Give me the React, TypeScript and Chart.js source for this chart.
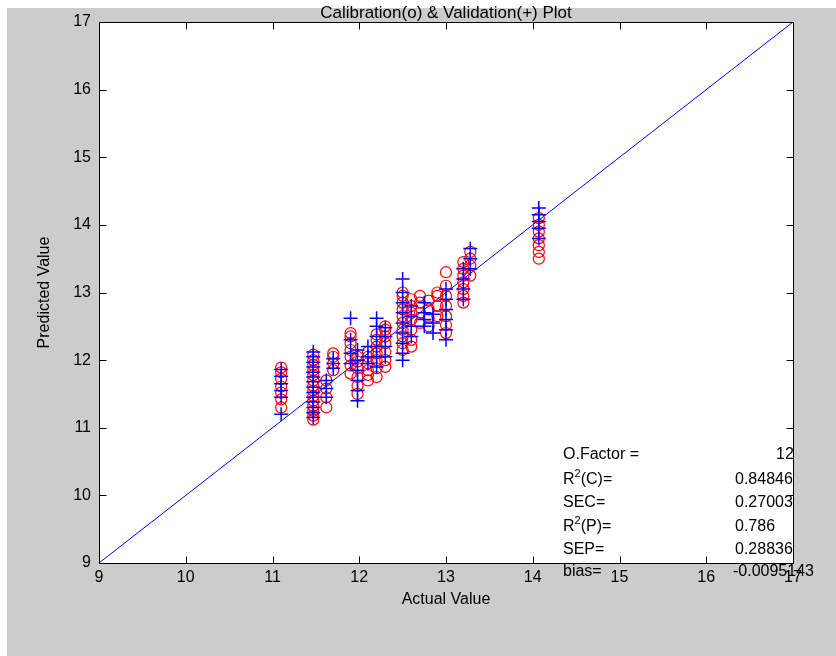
import React, { useEffect, useRef } from "react";
import { Chart, registerables } from "chart.js";

Chart.register(...registerables);

// ---- data ----
const xTicks = [9, 10, 11, 12, 13, 14, 15, 16, 17];
const yTicks = [9, 10, 11, 12, 13, 14, 15, 16, 17];
const diagonal = [9, 17];

const calActual = [11.1, 11.47, 11.62, 11.7, 11.9, 11.98, 12.1, 12.2, 12.3, 12.5, 12.6, 12.7, 12.8, 12.9, 13.0, 13.2, 13.28, 14.07];
const calPredicted = [
  [11.3, 11.42, 11.52, 11.61, 11.72, 11.82, 11.89],
  [11.12, 11.18, 11.25, 11.32, 11.4, 11.47, 11.55, 11.62, 11.7, 11.78, 11.85, 11.93, 12.0, 12.08],
  [11.3, 11.45, 11.58, 11.7],
  [11.85, 11.95, 12.05, 12.1],
  [11.8, 11.92, 12.05, 12.15, 12.25, 12.35, 12.4],
  [11.5, 11.62, 11.75, 11.88, 11.98, 12.05],
  [11.7, 11.78, 11.85, 11.95, 12.05, 12.12],
  [11.75, 11.88, 12.0, 12.1, 12.2, 12.3, 12.38],
  [11.9, 12.0, 12.12, 12.25, 12.35, 12.45, 12.5],
  [12.15, 12.25, 12.35, 12.45, 12.55, 12.65, 12.75, 12.85, 12.95, 13.0],
  [12.2, 12.3, 12.45, 12.6, 12.7, 12.8, 12.9],
  [12.55, 12.7, 12.85, 12.95],
  [12.5, 12.62, 12.75, 12.88],
  [12.65, 12.8, 12.95, 13.0],
  [12.4, 12.52, 12.65, 12.8, 12.95, 13.1, 13.3],
  [12.85, 12.95, 13.05, 13.15, 13.25, 13.35, 13.45],
  [13.25, 13.4, 13.5, 13.6],
  [13.5, 13.6, 13.7, 13.8, 13.9, 14.0, 14.1],
];

const valActual = [11.1, 11.47, 11.62, 11.7, 11.9, 11.98, 12.1, 12.2, 12.3, 12.5, 12.6, 12.75, 12.85, 13.0, 13.2, 13.28, 14.07];
const valPredicted = [
  [11.2, 11.45, 11.55, 11.65, 11.76, 11.86],
  [11.15, 11.22, 11.3, 11.38, 11.45, 11.52, 11.6, 11.68, 11.75, 11.82, 11.9, 11.97, 12.05, 12.12],
  [11.45, 11.58, 11.7],
  [11.88, 11.95, 12.02],
  [11.95, 12.1, 12.3, 12.62],
  [11.4, 11.55, 11.7, 11.85, 12.0, 12.15],
  [11.95, 12.05, 12.2],
  [11.9, 12.05, 12.2, 12.35, 12.5, 12.62],
  [12.05, 12.2, 12.35, 12.48],
  [12.0, 12.1, 12.25, 12.4, 12.55, 12.7, 12.85, 13.0, 13.2],
  [12.35, 12.5, 12.65, 12.8],
  [12.5, 12.6, 12.7, 12.85],
  [12.4, 12.55, 12.68],
  [12.3, 12.45, 12.6, 12.75, 12.9, 13.05],
  [12.9, 13.05, 13.2, 13.35],
  [13.35, 13.5, 13.65],
  [13.8, 13.95, 14.05, 14.15, 14.25],
];

const titleText = "Calibration(o) & Validation(+) Plot";
const xLabel = "Actual Value";
const yLabel = "Predicted Value";
const statLabels = ["O.Factor =", "R|2|(C)=", "SEC=", "R|2|(P)=", "SEP=", "bias="];
const statValues = ["12", "0.84846", "0.27003", "0.786", "0.28836", "-0.0095143"];

// ---- layout constants ----
const W = 836;
const H = 656;
const FONT = '"Liberation Sans", Arial, sans-serif';

function toPoints(actual: number[], pred: number[][]) {
  const pts: { x: number; y: number }[] = [];
  actual.forEach((a, i) => pred[i].forEach((p) => pts.push({ x: a, y: p })));
  return pts;
}

const matlabPlugin = {
  id: "matlabStyle",
  beforeDraw(chart: any) {
    const ctx = chart.ctx;
    const a = chart.chartArea;
    ctx.save();
    ctx.fillStyle = "#ffffff";
    ctx.fillRect(0, 0, W, H);
    ctx.fillStyle = "#cccccc";
    ctx.fillRect(7, 8, W - 7, H - 8);
    ctx.fillStyle = "#ffffff";
    ctx.fillRect(a.left, a.top, a.right - a.left, a.bottom - a.top);
    ctx.restore();
  },
  afterDraw(chart: any) {
    const ctx = chart.ctx;
    const a = chart.chartArea;
    const xs = chart.scales.x;
    const ys = chart.scales.y;
    ctx.save();
    ctx.fillStyle = "#000";
    // title
    ctx.font = `17px ${FONT}`;
    ctx.textAlign = "center";
    ctx.textBaseline = "middle";
    ctx.fillText(titleText, (a.left + a.right) / 2, 13);
    // x label
    ctx.font = `16px ${FONT}`;
    ctx.fillText(xLabel, (a.left + a.right) / 2, 600);
    // y label
    ctx.save();
    ctx.translate(45, (a.top + a.bottom) / 2);
    ctx.rotate(-Math.PI / 2);
    ctx.fillText(yLabel, 0, 0);
    ctx.restore();

    // stats text
    ctx.textAlign = "left";
    ctx.textBaseline = "middle";
    const rowY = [455, 480, 503, 527, 550, 572];
    statLabels.forEach((lab, i) => {
      let x = 563;
      const parts = lab.split("|");
      if (parts.length === 3) {
        ctx.font = `16px ${FONT}`;
        ctx.fillText(parts[0], x, rowY[i]);
        x += ctx.measureText(parts[0]).width;
        ctx.font = `11px ${FONT}`;
        ctx.fillText(parts[1], x, rowY[i] - 6);
        x += ctx.measureText(parts[1]).width;
        ctx.font = `16px ${FONT}`;
        ctx.fillText(parts[2], x, rowY[i]);
      } else {
        ctx.font = `16px ${FONT}`;
        ctx.fillText(lab, x, rowY[i]);
      }
    });
    ctx.font = `16px ${FONT}`;
    statValues.forEach((v, i) => {
      const x = i === 0 ? 776 : i === 5 ? 733 : 735;
      ctx.fillText(v, x, rowY[i]);
    });

    // axes box and inward ticks
    ctx.strokeStyle = "#000";
    ctx.lineWidth = 1;
    const L = Math.round(a.left) + 0.5;
    const R = Math.round(a.right) + 0.5;
    const T = Math.round(a.top) + 0.5;
    const B = Math.round(a.bottom) + 0.5;
    ctx.beginPath();
    ctx.rect(L, T, R - L, B - T);
    const tl = 7;
    xTicks.forEach((t) => {
      const px = Math.round(xs.getPixelForValue(t)) + 0.5;
      ctx.moveTo(px, B);
      ctx.lineTo(px, B - tl);
      ctx.moveTo(px, T);
      ctx.lineTo(px, T + tl);
    });
    yTicks.forEach((t) => {
      const py = Math.round(ys.getPixelForValue(t)) + 0.5;
      ctx.moveTo(L, py);
      ctx.lineTo(L + tl, py);
      ctx.moveTo(R, py);
      ctx.lineTo(R - tl, py);
    });
    ctx.stroke();
    ctx.restore();
  },
};

export default function App() {
  const ref = useRef<HTMLCanvasElement>(null);
  useEffect(() => {
    if (!ref.current) return;
    const chart = new Chart(ref.current, {
      type: "scatter",
      data: {
        datasets: [
          {
            label: "Validation",
            data: toPoints(valActual, valPredicted),
            pointStyle: "cross",
            pointRadius: 7,
            borderColor: "#0000ff",
            backgroundColor: "#0000ff",
            borderWidth: 1.5,
            showLine: false,
          },
          {
            label: "Calibration",
            data: toPoints(calActual, calPredicted),
            pointStyle: "circle",
            pointRadius: 5.5,
            borderColor: "#ff0000",
            backgroundColor: "rgba(0,0,0,0)",
            borderWidth: 1.2,
            showLine: false,
          },
          {
            label: "Diagonal",
            data: diagonal.map((v) => ({ x: v, y: v })),
            showLine: true,
            pointRadius: 0,
            borderColor: "#0000ff",
            borderWidth: 1,
          },
        ],
      },
      options: {
        animation: false,
        responsive: false,
        devicePixelRatio: 1,
        events: [],
        layout: { padding: { left: 0, top: 22, right: 43, bottom: 0 } },
        plugins: {
          legend: { display: false },
          title: { display: false },
          tooltip: { enabled: false },
        },
        scales: {
          x: {
            type: "linear",
            min: 9,
            max: 17,
            afterFit: (s: any) => {
              s.height = 93;
            },
            afterBuildTicks: (s: any) => {
              s.ticks = xTicks.map((v) => ({ value: v }));
            },
            ticks: {
              color: "#000",
              font: { family: FONT, size: 16 },
              padding: 5,
              maxRotation: 0,
            },
            grid: { display: false, drawTicks: false },
            border: { display: false },
          },
          y: {
            type: "linear",
            min: 9,
            max: 17,
            afterFit: (s: any) => {
              s.width = 99;
            },
            afterBuildTicks: (s: any) => {
              s.ticks = yTicks.map((v) => ({ value: v }));
            },
            ticks: {
              color: "#000",
              font: { family: FONT, size: 16 },
              padding: 8,
            },
            grid: { display: false, drawTicks: false },
            border: { display: false },
          },
        },
      },
      plugins: [matlabPlugin],
    });
    return () => chart.destroy();
  }, []);
  return (
    <div style={{ position: "fixed", left: 0, top: 0, width: W, height: H }}>
      <canvas ref={ref} width={W} height={H} style={{ width: W, height: H, display: "block" }} />
    </div>
  );
}
